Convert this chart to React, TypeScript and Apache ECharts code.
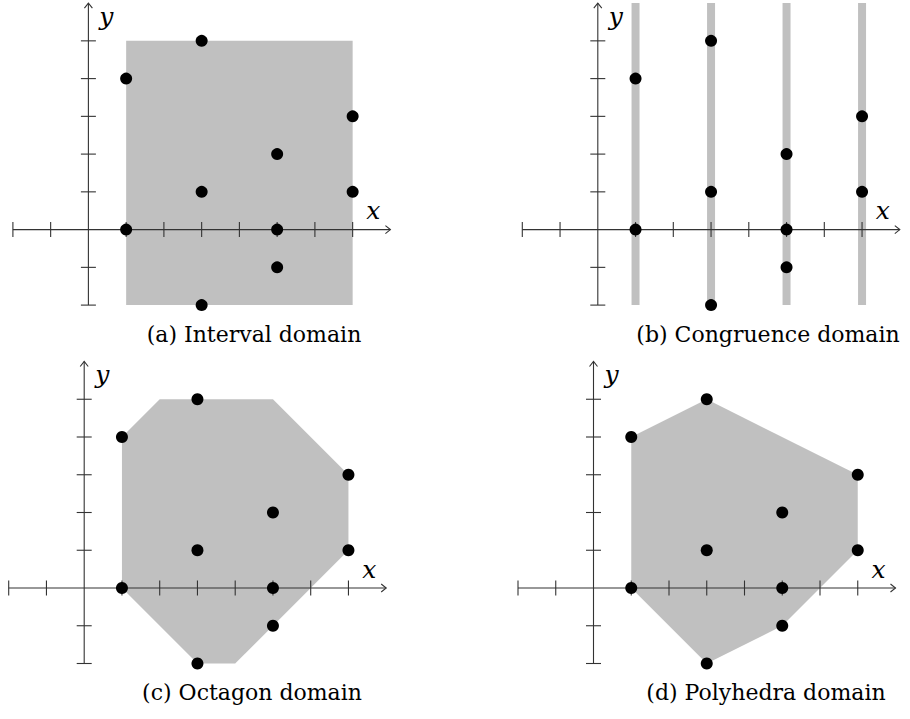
import React, { useEffect, useRef } from "react";
import * as echarts from "echarts";

// ---- data ----
const pointsX = [1, 1, 3, 3, 3, 5, 5, 5, 7, 7];
const pointsY = [0, 4, 5, 1, -2, 2, 0, -1, 3, 1];
const xTicks = [-2, -1, 1, 2, 3, 4, 5, 6, 7];
const yTicks = [-2, -1, 1, 2, 3, 4, 5];
const xRange = [-2, 8];
const yRange = [-2, 6];
const intervalBox = [[1, -2], [7, -2], [7, 5], [1, 5]];
const congruenceStripes = [1, 3, 5, 7];
const octagonVertices = [[1, 0], [1, 4], [2, 5], [5, 5], [7, 3], [7, 1], [4, -2], [3, -2]];
const polyhedraVertices = [[1, 0], [1, 4], [3, 5], [7, 3], [7, 1], [5, -1], [3, -2]];
const captions = ["(a) Interval domain", "(b) Congruence domain", "(c) Octagon domain", "(d) Polyhedra domain"];

// ---- layout ----
const UNIT = 37.75;
const layout = [
  { left: 12.9, top: 3.1, capX: 254, capY: 334 },
  { left: 522.3, top: 3.1, capX: 768, capY: 334 },
  { left: 8.7, top: 361.5, capX: 252, capY: 692 },
  { left: 518, top: 361.5, capX: 766, capY: 692 },
];
const SHADE = "#c0c0c0";
const AXIS = "#333";
const SERIF = "DejaVu Serif";

function regionSeries(i: number): any {
  if (i === 1) {
    return {
      type: "custom",
      xAxisIndex: i,
      yAxisIndex: i,
      silent: true,
      clip: false,
      z: 1,
      data: congruenceStripes.map((x) => [x, 0]),
      renderItem: (params: any, api: any) => {
        const x = api.value(0);
        const top = api.coord([x, yRange[1]]);
        const bot = api.coord([x, yRange[0]]);
        return {
          type: "rect",
          shape: { x: top[0] - 4, y: top[1], width: 8, height: bot[1] - top[1] },
          style: { fill: SHADE },
        };
      },
    };
  }
  const verts = i === 0 ? intervalBox : i === 2 ? octagonVertices : polyhedraVertices;
  return {
    type: "custom",
    xAxisIndex: i,
    yAxisIndex: i,
    silent: true,
    clip: false,
    z: 1,
    data: [[0, 0]],
    renderItem: (params: any, api: any) => ({
      type: "polygon",
      shape: { points: verts.map((v) => api.coord(v)) },
      style: { fill: SHADE },
    }),
  };
}

function axesSeries(i: number): any {
  return {
    type: "custom",
    xAxisIndex: i,
    yAxisIndex: i,
    silent: true,
    clip: false,
    z: 2,
    data: [[0, 0]],
    renderItem: (params: any, api: any) => {
      const children: any[] = [];
      const ls = { stroke: AXIS, lineWidth: 1.1, fill: null };
      const xl = api.coord([xRange[0], 0]);
      const xr = api.coord([xRange[1], 0]);
      const yb = api.coord([0, yRange[0]]);
      const yt = api.coord([0, yRange[1]]);
      children.push({ type: "line", shape: { x1: xl[0], y1: xl[1], x2: xr[0], y2: xr[1] }, style: ls });
      children.push({ type: "line", shape: { x1: yb[0], y1: yb[1], x2: yt[0], y2: yt[1] }, style: ls });
      children.push({
        type: "polyline",
        shape: { points: [[xr[0] - 5, xr[1] - 4], [xr[0], xr[1]], [xr[0] - 5, xr[1] + 4]] },
        style: ls,
      });
      children.push({
        type: "polyline",
        shape: { points: [[yt[0] - 4, yt[1] + 5], [yt[0], yt[1]], [yt[0] + 4, yt[1] + 5]] },
        style: ls,
      });
      xTicks.forEach((t) => {
        const p = api.coord([t, 0]);
        children.push({ type: "line", shape: { x1: p[0], y1: p[1] - 7.5, x2: p[0], y2: p[1] + 7.5 }, style: ls });
      });
      yTicks.forEach((t) => {
        const p = api.coord([0, t]);
        children.push({ type: "line", shape: { x1: p[0] - 7.5, y1: p[1], x2: p[0] + 7.5, y2: p[1] }, style: ls });
      });
      const lab = { fill: "#000", fontFamily: SERIF, fontStyle: "italic", fontSize: 25, align: "center", verticalAlign: "middle" };
      children.push({ type: "text", x: xr[0] - 17, y: xr[1] - 19, style: { ...lab, text: "x" } });
      children.push({ type: "text", x: yt[0] + 18, y: yt[1] + 13, style: { ...lab, text: "y" } });
      return { type: "group", children };
    },
  };
}

function pointSeries(i: number): any {
  return {
    type: "scatter",
    xAxisIndex: i,
    yAxisIndex: i,
    silent: true,
    z: 3,
    symbol: "circle",
    symbolSize: 12,
    itemStyle: { color: "#000", opacity: 1 },
    data: pointsX.map((x, k) => [x, pointsY[k]]),
  };
}

export default function App() {
  const ref = useRef<HTMLDivElement>(null);
  useEffect(() => {
    if (!ref.current) return;
    const chart = echarts.init(ref.current, undefined, { renderer: "svg" });
    const idx = [0, 1, 2, 3];
    chart.setOption({
      animation: false,
      backgroundColor: "#fff",
      grid: layout.map((l) => ({ left: l.left, top: l.top, width: 10 * UNIT, height: 8 * UNIT })),
      xAxis: idx.map((i) => ({ type: "value", gridIndex: i, min: xRange[0], max: xRange[1], show: false })),
      yAxis: idx.map((i) => ({ type: "value", gridIndex: i, min: yRange[0], max: yRange[1], show: false })),
      graphic: captions.map((c, i) => ({
        type: "text",
        x: layout[i].capX,
        y: layout[i].capY,
        style: {
          text: c,
          fill: "#000",
          fontFamily: SERIF,
          fontSize: 22,
          align: "center",
          verticalAlign: "middle",
        },
      })),
      series: idx.flatMap((i) => [regionSeries(i), axesSeries(i), pointSeries(i)]),
    });
    return () => chart.dispose();
  }, []);
  return (
    <div
      ref={ref}
      style={{ position: "absolute", left: 0, top: 0, width: 910, height: 719, background: "#fff" }}
    />
  );
}
